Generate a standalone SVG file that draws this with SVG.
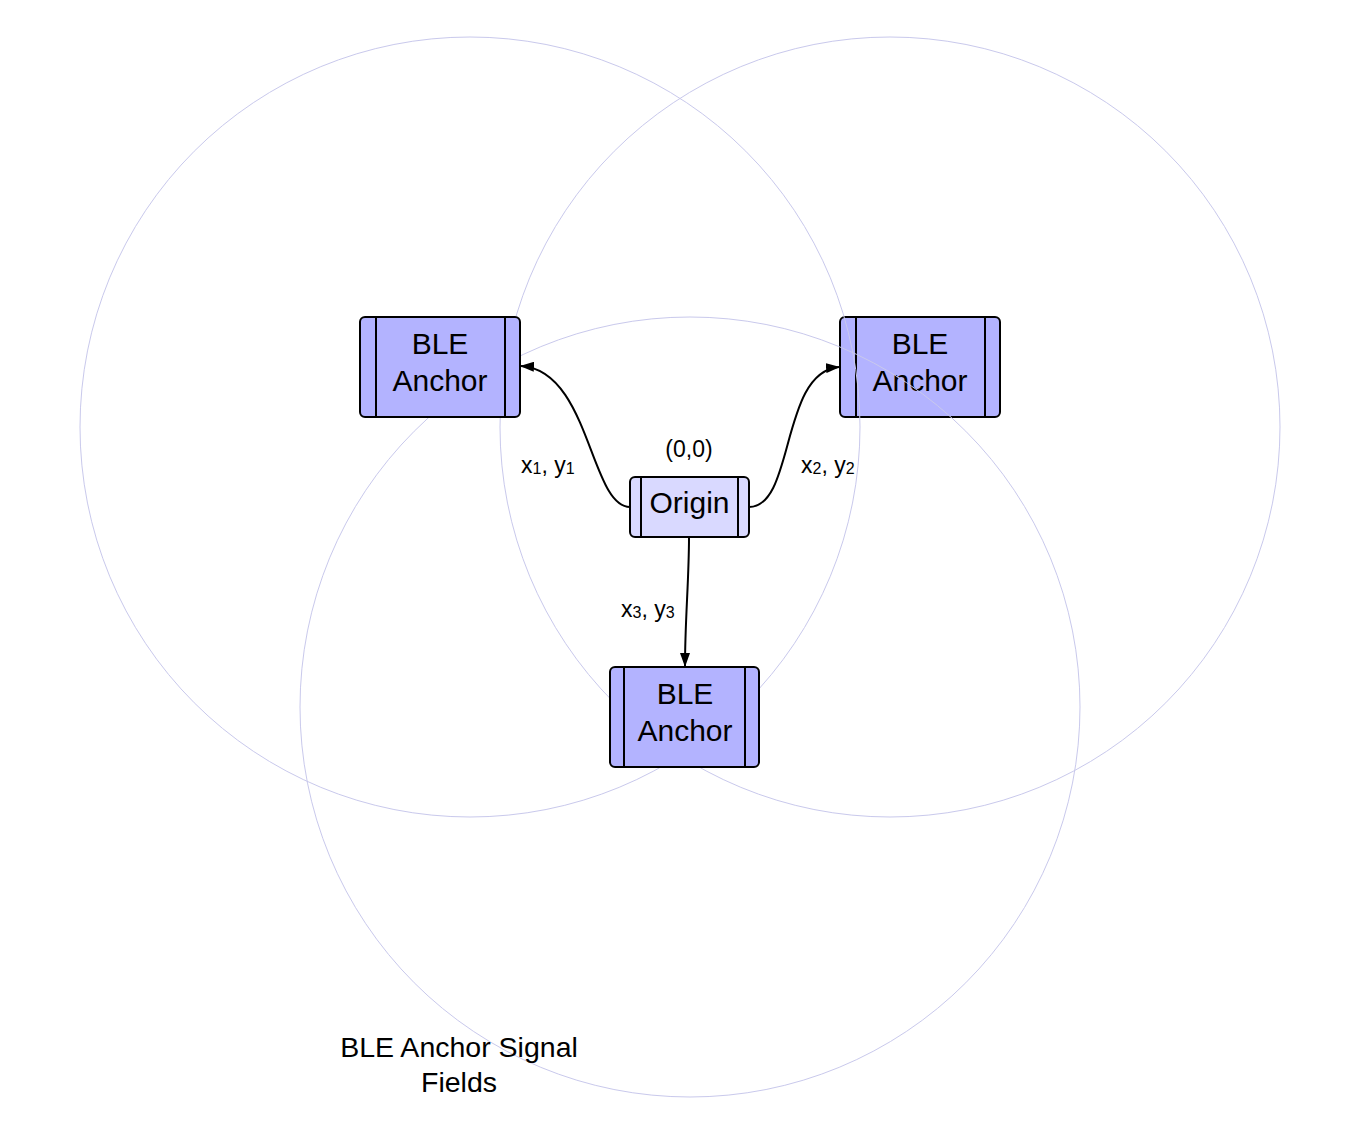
<svg xmlns="http://www.w3.org/2000/svg" width="1360" height="1141" viewBox="0 0 1360 1141">
<style>
.field{fill:none;stroke:#c9c9ec;stroke-width:1}
.anchor{fill:#b3b3ff;stroke:#000;stroke-width:2}
.origin{fill:#d9d9ff;stroke:#000;stroke-width:2}
.bar{stroke:#000;stroke-width:2}
.nt{font-family:"Liberation Sans",Arial,sans-serif;font-size:30px;fill:#000;text-anchor:middle}
.lb{font-family:"Liberation Sans",Arial,sans-serif;font-size:23px;fill:#000}
.ft{font-family:"Liberation Sans",Arial,sans-serif;font-size:28.5px;fill:#000;text-anchor:middle}
.con{fill:none;stroke:#000;stroke-width:2}
</style>
<defs>
<marker id="ah" viewBox="0 0 14 10" refX="13" refY="5" markerWidth="14" markerHeight="10" markerUnits="userSpaceOnUse" orient="auto">
<path d="M0,0 L14,5 L0,10 z" fill="#000"/>
</marker>
</defs>
<rect width="1360" height="1141" fill="#fff"/>
<g id="anchor2">
<rect class="anchor" x="840" y="317" width="160" height="100" rx="5"/>
<line class="bar" x1="856" y1="317" x2="856" y2="417"/>
<line class="bar" x1="985" y1="317" x2="985" y2="417"/>
<text class="nt" x="920" y="354">BLE</text>
<text class="nt" x="920" y="391">Anchor</text>
</g>
<g id="fields">
<circle class="field" cx="470" cy="427" r="390"/>
<circle class="field" cx="890" cy="427" r="390"/>
<circle class="field" cx="690" cy="707" r="390"/>
</g>
<g id="anchor1">
<rect class="anchor" x="360" y="317" width="160" height="100" rx="5"/>
<line class="bar" x1="376" y1="317" x2="376" y2="417"/>
<line class="bar" x1="505" y1="317" x2="505" y2="417"/>
<text class="nt" x="440" y="354">BLE</text>
<text class="nt" x="440" y="391">Anchor</text>
</g>
<g id="anchor3">
<rect class="anchor" x="610" y="667" width="149" height="100" rx="5"/>
<line class="bar" x1="624" y1="667" x2="624" y2="767"/>
<line class="bar" x1="745" y1="667" x2="745" y2="767"/>
<text class="nt" x="685" y="704">BLE</text>
<text class="nt" x="685" y="741">Anchor</text>
</g>
<g id="origin">
<rect class="origin" x="630" y="477" width="119" height="60" rx="5"/>
<line class="bar" x1="641" y1="477" x2="641" y2="537"/>
<line class="bar" x1="738" y1="477" x2="738" y2="537"/>
<text class="nt" x="689.500" y="513">Origin</text>
</g>
<g id="connectors">
<path class="con" d="M630,507 C590,507 590,370 521,366" marker-end="url(#ah)"/>
<path class="con" d="M749,507 C795,507 780,372 839,367" marker-end="url(#ah)"/>
<path class="con" d="M689,537 C689,580 685,620 685,666" marker-end="url(#ah)"/>
</g>
<g id="labels">
<text class="lb" x="689" y="457" text-anchor="middle">(0,0)</text>
<text class="lb" x="521" y="473">x<tspan font-size="16" dy="1">1</tspan><tspan dy="-1">, y</tspan><tspan font-size="16" dy="1">1</tspan></text>
<text class="lb" x="801" y="473">x<tspan font-size="16" dy="1">2</tspan><tspan dy="-1">, y</tspan><tspan font-size="16" dy="1">2</tspan></text>
<text class="lb" x="621" y="617">x<tspan font-size="16" dy="1">3</tspan><tspan dy="-1">, y</tspan><tspan font-size="16" dy="1">3</tspan></text>
<text class="ft" x="459" y="1057">BLE Anchor Signal</text>
<text class="ft" x="459" y="1092">Fields</text>
</g>
</svg>
